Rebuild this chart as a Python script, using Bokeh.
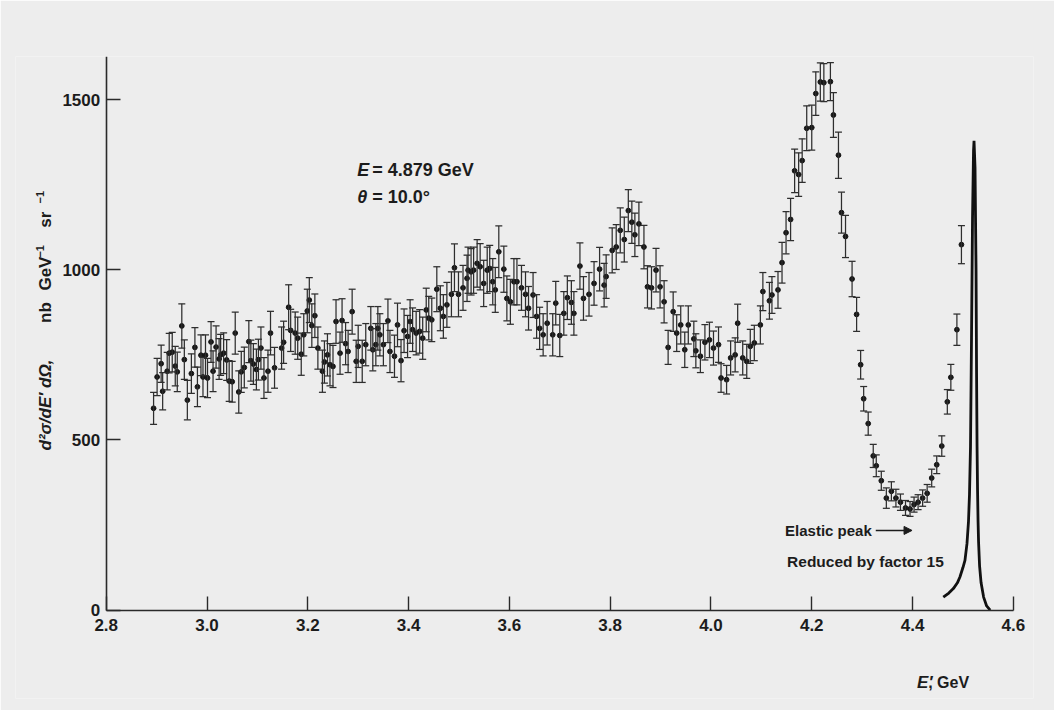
import math
from bokeh.plotting import figure
from bokeh.models import (Range1d, FixedTicker, PrintfTickFormatter, Whisker, TeeHead,
                          ColumnDataSource, Label, Arrow, NormalHead)
from bokeh.embed import file_html
from bokeh.resources import INLINE

# ---- data: scattered electron energy E' (GeV), cross section (nb/GeV/sr), error ----
e_prime = [
    2.894, 2.901, 2.909, 2.912, 2.921, 2.925, 2.931, 2.937, 2.941, 2.950,
    2.955, 2.961, 2.969, 2.976, 2.981, 2.988, 2.992, 2.997, 3.001, 3.008,
    3.012, 3.018, 3.024, 3.027, 3.033, 3.039, 3.044, 3.050, 3.056, 3.063,
    3.068, 3.074, 3.083, 3.087, 3.092, 3.098, 3.102, 3.107, 3.113, 3.121,
    3.126, 3.134, 3.148, 3.152, 3.162, 3.166, 3.175, 3.180, 3.187, 3.192,
    3.199, 3.203, 3.208, 3.214, 3.220, 3.229, 3.233, 3.239, 3.244, 3.250,
    3.256, 3.264, 3.268, 3.275, 3.280,
    3.288, 3.296, 3.300, 3.308, 3.315, 3.325, 3.329, 3.335, 3.339, 3.343,
    3.350, 3.359, 3.363, 3.372, 3.378, 3.385, 3.391, 3.398, 3.403, 3.408,
    3.415, 3.422, 3.428, 3.435, 3.440, 3.446, 3.456, 3.463, 3.469, 3.476,
    3.485, 3.491, 3.499, 3.508, 3.516, 3.518, 3.524, 3.529, 3.536, 3.542,
    3.549, 3.556, 3.561, 3.567, 3.572, 3.579, 3.589, 3.595, 3.602, 3.609,
    3.615, 3.624, 3.632, 3.638, 3.647, 3.654, 3.660, 3.667, 3.675, 3.686,
    3.692, 3.700, 3.708, 3.715, 3.723, 3.728, 3.740, 3.747, 3.758,
    3.768, 3.779, 3.788, 3.792, 3.804, 3.812, 3.820, 3.828, 3.836, 3.843,
    3.849, 3.857, 3.867, 3.874, 3.882, 3.891, 3.899, 3.907, 3.915, 3.925,
    3.932, 3.940, 3.948, 3.955, 3.966, 3.970, 3.979, 3.988, 3.997, 4.005,
    4.015, 4.020, 4.031, 4.039, 4.048, 4.053, 4.063, 4.071, 4.078, 4.086,
    4.098, 4.103, 4.116, 4.121, 4.133, 4.141, 4.149, 4.158, 4.166, 4.174,
    4.181, 4.190, 4.200, 4.208, 4.217, 4.224, 4.237, 4.243, 4.253, 4.259,
    4.267, 4.280, 4.289,
    4.297, 4.303, 4.312, 4.322, 4.328, 4.338, 4.348, 4.358, 4.367, 4.376,
    4.386, 4.395, 4.403, 4.411, 4.420, 4.429, 4.438, 4.448, 4.458, 4.469,
    4.476, 4.488, 4.497,
]
cross_section = [
    593, 685, 724, 643, 702, 755, 758, 717, 700, 835,
    736, 617, 695, 772, 656, 749, 685, 749, 682, 788,
    702, 773, 738, 750, 755, 735, 673, 671, 814, 641,
    700, 713, 789, 733, 723, 707, 736, 770, 682, 702,
    814, 712, 770, 787, 890, 822, 814, 799, 752, 809,
    879, 911, 836, 865, 770, 702, 729, 750, 721, 716,
    848, 755, 851, 783, 760,
    877, 731, 775, 731, 780, 828, 765, 780, 828, 809,
    780, 850, 760, 746, 838, 733, 821, 804, 848, 824,
    814, 819, 799, 882, 858, 853, 943, 887, 863, 897,
    928, 1006, 928, 947, 975, 999, 994, 999, 1019, 1009,
    960, 999, 1004, 965, 941, 1053, 1002, 916, 906, 965,
    965, 947, 928, 887, 926, 863, 828, 809, 843, 809,
    902, 807, 872, 918, 904, 872, 1011, 916, 928,
    960, 1002, 955, 980, 1057, 1067, 1116, 1089, 1174, 1140,
    1103, 1135, 1067, 950, 947, 999, 950, 906, 772, 877,
    814, 838, 765, 838, 797, 762, 746, 787, 794, 770,
    780, 682, 677, 741, 750, 843, 741, 731, 775, 785,
    838, 936, 909, 926, 941, 1021, 1109, 1148, 1291, 1280,
    1321, 1416, 1418, 1518, 1552, 1550, 1553, 1455, 1337, 1168,
    1098, 973, 869,
    721, 621, 548, 453, 424, 380, 329, 349, 329, 317,
    300, 297, 310, 317, 329, 343, 388, 427, 482, 612,
    684, 824, 1074,
]
errors = [
    47, 55, 55, 55, 55, 58, 58, 58, 58, 65,
    58, 58, 58, 58, 58, 60, 58, 60, 58, 60,
    60, 62, 60, 60, 60, 60, 60, 60, 62, 62,
    60, 60, 62, 60, 60, 60, 60, 62, 60, 62,
    64, 60, 62, 62, 66, 62, 62, 62, 62, 62,
    64, 66, 64, 64, 62, 62, 62, 62, 62, 62,
    64, 62, 64, 62, 62,
    66, 62, 62, 62, 62, 64, 62, 62, 64, 62,
    62, 64, 62, 62, 64, 62, 64, 62, 64, 64,
    64, 64, 62, 64, 64, 64, 66, 66, 64, 66,
    66, 70, 66, 66, 68, 68, 68, 68, 70, 68,
    68, 68, 68, 68, 66, 76, 68, 66, 66, 68,
    68, 66, 66, 64, 66, 64, 62, 62, 64, 62,
    64, 62, 64, 64, 64, 64, 68, 64, 64,
    64, 64, 64, 64, 66, 66, 66, 66, 62, 62,
    64, 64, 64, 62, 62, 64, 62, 62, 50, 58,
    54, 56, 52, 56, 52, 50, 48, 52, 52, 50,
    52, 42, 42, 50, 50, 56, 50, 50, 50, 52,
    56, 56, 54, 54, 54, 60, 62, 62, 64, 64,
    64, 66, 66, 64, 56, 56, 56, 66, 68, 60,
    62, 52, 50,
    42, 36, 34, 34, 32, 28, 30, 28, 26, 24,
    22, 22, 22, 22, 24, 26, 26, 26, 30, 36,
    38, 46, 56,
]

# elastic peak (reduced by factor 15)
elastic_e = [4.461, 4.472, 4.481, 4.489, 4.494, 4.500, 4.504, 4.508, 4.511, 4.513,
             4.515, 4.517, 4.519, 4.521, 4.522, 4.524, 4.526, 4.527, 4.528, 4.529,
             4.530, 4.531, 4.533, 4.536, 4.541, 4.547, 4.554]
elastic_val = [38, 50, 63, 80, 97, 125, 146, 195, 260, 340,
               480, 800, 1150, 1350, 1379, 1300, 1000, 700, 480, 350,
               260, 200, 130, 80, 38, 12, 0]

x_ticks = [2.8, 3.0, 3.2, 3.4, 3.6, 3.8, 4.0, 4.2, 4.4, 4.6]
y_ticks = [0, 500, 1000, 1500]
x_axis_span = (2.8, 4.6)
y_axis_span = (0, 1627)

FONT = "Liberation Sans"
INK = "#1c1c1c"
BG = "#ededed"

p = figure(frame_width=1018, frame_height=642,
           min_border_left=15, min_border_right=21, min_border_top=56, min_border_bottom=12,
           x_range=Range1d(2.62, 4.64), y_range=Range1d(-260, 1627),
           output_backend="svg", toolbar_location=None)
p.background_fill_color = BG
p.border_fill_color = BG
p.outline_line_color = None
p.grid.visible = False

for ax in (p.xaxis[0], p.yaxis[0]):
    ax.axis_line_color = "#2a2a2a"
    ax.axis_line_width = 1.6
    ax.major_tick_line_color = "#2a2a2a"
    ax.major_tick_line_width = 1.4
    ax.major_tick_in = 14
    ax.major_tick_out = 0
    ax.minor_tick_line_color = None
    ax.major_label_text_font = FONT
    ax.major_label_text_font_size = "17px"
    ax.major_label_text_font_style = "bold"
    ax.major_label_text_color = INK

p.xaxis.ticker = FixedTicker(ticks=x_ticks)
p.xaxis.formatter = PrintfTickFormatter(format="%.1f")
p.xaxis.major_label_standoff = 9
p.xaxis.fixed_location = 0
p.xaxis.bounds = x_axis_span
p.yaxis.ticker = FixedTicker(ticks=y_ticks)
p.yaxis.major_label_standoff = 6
p.yaxis.fixed_location = 2.8
p.yaxis.bounds = y_axis_span

src = ColumnDataSource(dict(
    x=e_prime, y=cross_section,
    lower=[v - e for v, e in zip(cross_section, errors)],
    upper=[v + e for v, e in zip(cross_section, errors)],
))

whisk = Whisker(source=src, base="x", lower="lower", upper="upper",
                line_color="#2e2e2e", line_width=1.25,
                upper_head=TeeHead(size=7, line_color="#2e2e2e", line_width=1.25),
                lower_head=TeeHead(size=7, line_color="#2e2e2e", line_width=1.25),
                level="glyph")
p.add_layout(whisk)
p.scatter("x", "y", source=src, size=4.8, color="#151515")

p.line(elastic_e, elastic_val, line_width=2.8, line_color="#111111")

def lab(x, y, text, size="18px", style="bold", align="left", baseline="middle", angle=0.0):
    p.add_layout(Label(x=x, y=y, text=text, text_font=FONT, text_font_size=size,
                       text_font_style=style, text_color=INK, text_align=align,
                       text_baseline=baseline, angle=angle))

# annotations
lab(3.298, 1294, "E", style="bold italic")
lab(3.328, 1294, "= 4.879 GeV")
lab(3.298, 1214, "θ", style="bold italic")
lab(3.328, 1214, "= 10.0°")

lab(4.147, 234, "Elastic peak", size="15px")
lab(4.151, 143, "Reduced by factor 15", size="15.5px")
p.add_layout(Arrow(x_start=4.327, y_start=234, x_end=4.399, y_end=234,
                   line_color=INK, line_width=1.5,
                   end=NormalHead(size=8, fill_color=INK, line_color=INK)))

# x-axis title
lab(4.409, -212, "E′", size="17px", style="bold italic")
lab(4.431, -212, ", GeV", size="16px")

# y-axis title (rotated, reading upwards)
up = math.pi / 2
lab(2.679, 469, "d²σ/dE′ dΩ,", size="17px", style="bold italic", angle=up)
lab(2.679, 844, "nb", size="17px", angle=up)
lab(2.679, 939, "GeV", size="17px", angle=up)
lab(2.669, 1036, "−1", size="11px", angle=up)
lab(2.679, 1124, "sr", size="17px", angle=up)
lab(2.669, 1195, "−1", size="11px", angle=up)

open("out.html", "w").write(file_html(p, INLINE))
